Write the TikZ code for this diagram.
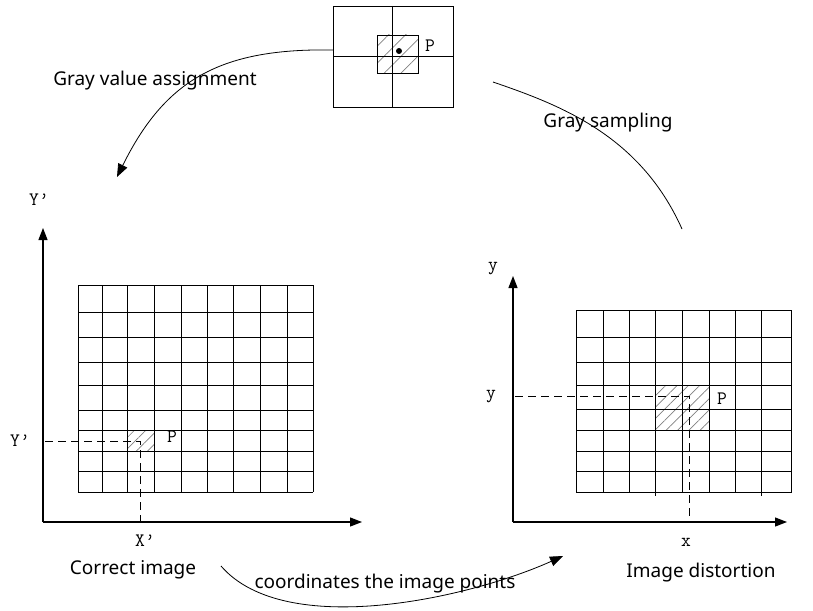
\documentclass[tikz,border=0pt]{standalone}
\usepackage{fontspec}
\setmainfont{Noto Sans}
\usetikzlibrary{arrows.meta,patterns.meta}

\tikzset{
 gridline/.style={line width=0.8pt},
 axis/.style={line width=1.2pt,-{Triangle[length=12pt,width=9pt]}},
 guide/.style={dash pattern=on 8pt off 5pt,line width=0.7pt},
 hatch/.style={pattern={Lines[angle=45,distance=#1,line width=0.7pt]},pattern color=gray},
 lab/.style={font=\ttfamily\fontsize{19}{19}\selectfont},
 caption/.style={font=\fontsize{19}{19}\selectfont},
 arcline/.style={line width=0.8pt},
 tip/.style={-{Triangle[length=13pt,width=10pt]}},
}

\begin{document}
\begin{tikzpicture}[x=1pt,y=-1pt]
 \useasboundingbox (0,0) rectangle (813,610);

 % window around P (top)
 \fill[hatch=12pt] (377,35) rectangle (418,73);
 \draw[gridline] (333,6) rectangle (453,107);
 \draw[gridline] (392,6) -- (392,107);
 \draw[gridline] (333,56) -- (453,56);
 \draw[gridline] (377,35) rectangle (418,73);
 \fill (399,51) circle (3pt);
 \node[lab] (Pw) at (430,46) {P};
 \coordinate (win-l) at (333,50); % left edge of the window
 \coordinate (win-r) at (493,82);

 % correct image (left)
 \coordinate (O1) at (43,522);
 \coordinate (Y1) at (43,228);
 \coordinate (X1) at (362,522);
 \fill[hatch=8pt] (127,430) rectangle (154,451);
 \foreach \x in {78.3,102.7,127.3,154.3,181,207.3,233.7,260.3,287,313.3}
  \draw[gridline] (\x,285) -- (\x,492);
 \foreach \y in {285,312,337,362,385,410,430,451,471,492}
  \draw[gridline] (78.3,\y) -- (313.3,\y);
 \draw[axis] (O1) -- (Y1);
 \draw[axis] (O1) -- (X1);
 \coordinate (P1) at (140,441);
 \draw[guide] (45,441) -- (P1) -- (140,522);
 \node[lab] (Y1t) at (39,200) {Y’};
 \node[lab] (Y1l) at (20,441) {Y’};
 \node[lab] (X1b) at (145,541) {X’};
 \node[lab] (P1l) at (172,437) {P};
 \node[caption] (ci) at (133,570) {Correct image};

 % image distortion (right)
 \coordinate (O2) at (513,522);
 \coordinate (Y2) at (513,276);
 \coordinate (X2) at (787,522);
 \fill[hatch=8pt] (656,385) rectangle (709,430);
 \foreach \x in {576,603.3,629,655.7,682.3,709,735.7,761,791.7}
  \draw[gridline] (\x,310) -- (\x,492);
 \foreach \y in {310,337.3,362.3,385,409,430,451,471,492}
  \draw[gridline] (576,\y) -- (791.7,\y);
 \draw[gridline] (655.7,492) -- (655.7,496);
 \draw[gridline] (761,492) -- (761,496);
 \draw[axis] (O2) -- (Y2);
 \draw[axis] (O2) -- (X2);
 \coordinate (P2) at (689,396);
 \draw[guide] (515,396) -- (P2) -- (689,522);
 \node[lab] (Y2t) at (493,269) {y};
 \node[lab] (Y2l) at (491,397) {y};
 \node[lab] (X2b) at (686,542) {x};
 \node[lab] (P2l) at (722,399) {P};
 \node[caption] (id) at (701,573) {Image distortion};

 % arcs between the three pictures
 \coordinate (ci-in) at (117,177);
 \coordinate (ds-in) at (682,229);
 \coordinate (ci-out) at (221,566);
 \coordinate (id-in) at (563,556);
 \draw[arcline,tip] (win-l) .. controls (220,48) and (165,80) .. (ci-in);
 \draw[arcline] (win-r) .. controls (560,105) and (640,135) .. (ds-in);
 \draw[arcline,tip] (ci-out) .. controls (285,640) and (470,598) .. (id-in);
 \node[caption] (gva) at (155,81) {Gray value assignment};
 \node[caption] (gs) at (608,123) {Gray sampling};
 \node[caption] (cip) at (385,584) {coordinates the image points};
\end{tikzpicture}
\end{document}
